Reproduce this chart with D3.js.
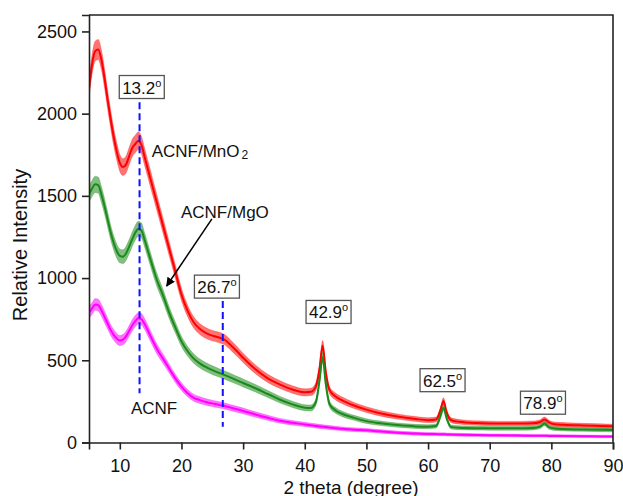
<!DOCTYPE html>
<html>
<head>
<meta charset="utf-8">
<script src="https://cdn.jsdelivr.net/npm/d3@7"></script>
<style>
  html, body { margin: 0; padding: 0; background: #fff; }
  svg { display: block; font-family: Arial, "Liberation Sans", sans-serif; }
</style>
</head>
<body>
<svg id="chart" width="623" height="496"></svg>
<script>
// XRD patterns: diffraction angle (2θ, degrees) and intensity for each sample
const twoTheta = [5, 5.5, 6, 6.5, 7, 7.5, 8, 8.5, 9, 9.5, 10, 10.5, 11, 11.5, 12, 12.5, 13, 13.5, 14,
  15, 16, 17, 18, 19, 20, 21, 22, 23, 24, 25, 26, 27, 28, 29, 30, 32, 34, 36, 38, 40, 41, 41.8, 42.4,
  42.9, 43.4, 44, 45, 46, 48, 50, 52, 55, 58, 60, 61.3, 62, 62.5, 63, 63.7, 65, 68, 70, 73, 75, 77,
  78.2, 78.9, 79.6, 80.5, 82, 85, 88, 90];

const acnfMnO2 = [2150, 2300, 2380, 2390, 2330, 2220, 2090, 1970, 1860, 1770, 1700, 1675, 1690, 1740, 1790, 1815, 1835, 1810, 1740,
  1600, 1460, 1320, 1180, 1040, 900, 800, 730, 690, 665, 650, 640, 625, 592, 555, 515, 445, 390, 352, 322, 305, 308, 340, 450,
  590, 430, 320, 280, 258, 225, 200, 180, 158, 143, 136, 140, 195, 252, 185, 137, 126, 118, 116, 115, 115, 117,
  125, 140, 122, 111, 108, 104, 101, 99];

const acnfMgO = [1510, 1545, 1570, 1565, 1510, 1440, 1360, 1280, 1215, 1165, 1135, 1130, 1150, 1190, 1235, 1275, 1300, 1290, 1235,
  1110, 990, 895, 790, 700, 615, 555, 510, 480, 458, 440, 425, 410, 395, 378, 362, 330, 295, 260, 232, 212, 210, 245, 380,
  520, 360, 235, 195, 175, 150, 130, 118, 106, 98, 96, 100, 160, 212, 150, 95, 90, 87, 86, 86, 86, 88,
  97, 115, 93, 85, 82, 79, 77, 76];

const acnf = [790, 815, 840, 835, 805, 765, 725, 685, 655, 632, 620, 625, 645, 678, 712, 738, 755, 750, 722,
  645, 570, 510, 450, 390, 340, 300, 272, 258, 246, 238, 230, 222, 212, 202, 192, 170, 150, 132, 120, 110, 105, 101, 98,
  96, 94, 91, 87, 83, 78, 74, 68, 60, 54, 52, 51, 50, 50, 49, 48, 47, 45, 44, 43, 42, 41,
  41, 41, 40, 40, 39, 38, 37, 36];

const seriesNames = ["ACNF/MnO2", "ACNF/MgO", "ACNF"];
const seriesColors = ["#ff0000", "#1a8a1a", "#ff00ff"];

const xTicks = [10, 20, 30, 40, 50, 60, 70, 80, 90];
const yTicks = [0, 500, 1000, 1500, 2000, 2500];

// Peak angles marked with labelled boxes
const peakLabels = ["13.2", "26.7", "42.9", "62.5", "78.9"];
const peakBoxX = [13.56, 25.75, 43.86, 62.35, 78.64];
const peakBoxY = [2162, 948, 794, 379, 242];

// Dashed guide lines at the carbon reflections
const guideAngles = [13.2, 26.7];
const guideTop = [2070, 860];
const guideBottom = [300, 96];

const svg = d3.select("#chart");
const W = 623, H = 496;
const margin = { top: 15, right: 10, bottom: 53.5, left: 89 };

const x = d3.scaleLinear().domain([5, 90]).range([margin.left, W - margin.right]);
const y = d3.scaleLinear().domain([0, 2600]).range([H - margin.bottom, margin.top]);

const plot = svg.append("g");

svg.append("defs").append("clipPath").attr("id", "plotClip")
  .append("rect").attr("x", margin.left).attr("y", margin.top)
  .attr("width", W - margin.left - margin.right).attr("height", H - margin.top - margin.bottom);

// Counting-noise spread around each pattern grows with the square root of the intensity
const spread = v => 1.25 * Math.sqrt(v);

const allSeries = [acnfMnO2, acnfMgO, acnf];
const curves = plot.append("g").attr("clip-path", "url(#plotClip)");

allSeries.forEach((vals, i) => {
  const pts = twoTheta.map((t, j) => ({ t, v: vals[j] }));
  const band = d3.area()
    .x(d => x(d.t))
    .y0(d => y(d.v - spread(d.v)))
    .y1(d => y(d.v + spread(d.v)))
    .curve(d3.curveMonotoneX);
  const line = d3.line()
    .x(d => x(d.t))
    .y(d => y(d.v))
    .curve(d3.curveMonotoneX);
  curves.append("path").datum(pts)
    .attr("d", band)
    .attr("fill", seriesColors[i])
    .attr("fill-opacity", 0.55)
    .attr("stroke", seriesColors[i])
    .attr("stroke-opacity", 0.35)
    .attr("stroke-width", 0.8);
  curves.append("path").datum(pts)
    .attr("d", line)
    .attr("fill", "none")
    .attr("stroke", seriesColors[i])
    .attr("stroke-width", 2);
});

// Dashed guides
guideAngles.forEach((a, i) => {
  plot.append("line")
    .attr("x1", x(a)).attr("x2", x(a))
    .attr("y1", y(guideTop[i])).attr("y2", y(guideBottom[i]))
    .attr("stroke", "#1010ff").attr("stroke-width", 2)
    .attr("stroke-dasharray", "7,4");
});

// Axes
const axisColor = "#222";
const xAxis = svg.append("g")
  .attr("transform", `translate(0,${H - margin.bottom})`)
  .call(d3.axisBottom(x).tickValues(xTicks).tickSize(7).tickPadding(6).tickFormat(d3.format("d")));
const yAxis = svg.append("g")
  .attr("transform", `translate(${margin.left},0)`)
  .call(d3.axisLeft(y).tickValues(yTicks).tickSize(7).tickPadding(5).tickFormat(d3.format("d")));

[xAxis, yAxis].forEach(g => {
  g.select(".domain").attr("stroke", axisColor).attr("stroke-width", 1.6);
  g.selectAll(".tick line").attr("stroke", axisColor).attr("stroke-width", 1.6);
  g.selectAll(".tick text").attr("fill", "#111").attr("font-size", 18)
    .attr("font-family", "Arial, 'Liberation Sans', sans-serif");
});
xAxis.selectAll(".tick text").attr("dy", "0.9em");

// Frame: top and right edges
svg.append("path")
  .attr("d", `M${margin.left},${margin.top}H${W - margin.right}V${H - margin.bottom}`)
  .attr("fill", "none").attr("stroke", axisColor).attr("stroke-width", 1.6);

// Axis titles
svg.append("text")
  .attr("x", (margin.left + W - margin.right) / 2).attr("y", 493.5)
  .attr("text-anchor", "middle").attr("font-size", 19).attr("fill", "#111")
  .text("2 theta (degree)");
svg.append("text")
  .attr("transform", `translate(27,245) rotate(-90)`)
  .attr("text-anchor", "middle").attr("font-size", 20).attr("fill", "#111")
  .text("Relative Intensity");

// Peak boxes with degree labels
peakLabels.forEach((lab, i) => {
  const g = svg.append("g").attr("transform", `translate(${x(peakBoxX[i])},${y(peakBoxY[i])})`);
  const bw = 45, bh = 23;
  g.append("rect")
    .attr("x", -bw / 2).attr("y", -bh / 2).attr("width", bw).attr("height", bh)
    .attr("fill", "#fff").attr("stroke", "#555").attr("stroke-width", 1.3);
  const t = g.append("text")
    .attr("text-anchor", "middle").attr("y", 6.5)
    .attr("font-size", 17).attr("fill", "#111");
  t.append("tspan").text(lab);
  t.append("tspan").attr("font-size", 11).attr("dy", -7).text("o");
});

// Series labels
const lab1 = svg.append("text")
  .attr("x", x(15.16)).attr("y", y(1739))
  .attr("font-size", 17).attr("fill", "#111");
lab1.append("tspan").text("ACNF/MnO");
lab1.append("tspan").attr("font-size", 12).attr("dx", 2).attr("dy", 2).text("2");

svg.append("text")
  .attr("x", x(19.92)).attr("y", y(1366))
  .attr("font-size", 17).attr("fill", "#111")
  .text("ACNF/MgO");

svg.append("text")
  .attr("x", x(11.8)).attr("y", y(173))
  .attr("font-size", 17).attr("fill", "#111")
  .text("ACNF");

// Arrow pointing to the ACNF/MgO pattern
svg.select("defs").append("marker")
  .attr("id", "arrowHead").attr("viewBox", "0 0 10 10")
  .attr("refX", 9).attr("refY", 5)
  .attr("markerWidth", 9).attr("markerHeight", 9)
  .attr("markerUnits", "userSpaceOnUse")
  .attr("orient", "auto")
  .append("path").attr("d", "M0,0L10,5L0,10z").attr("fill", "#000");

svg.append("line")
  .attr("x1", x(24.94)).attr("y1", y(1360))
  .attr("x2", x(17.6)).attr("y2", y(952))
  .attr("stroke", "#000").attr("stroke-width", 1.5)
  .attr("marker-end", "url(#arrowHead)");
</script>
</body>
</html>
